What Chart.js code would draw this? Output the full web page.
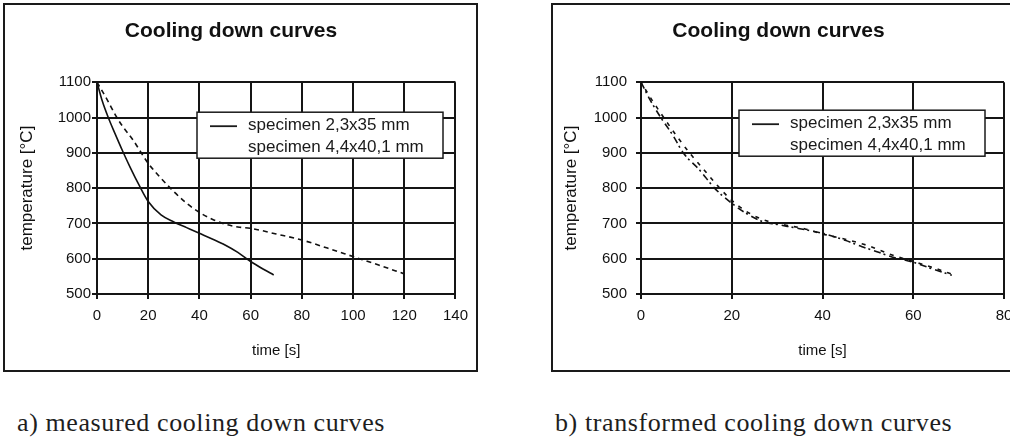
<!DOCTYPE html>
<html>
<head>
<meta charset="utf-8">
<script src="https://cdn.jsdelivr.net/npm/chart.js"></script>
<style>
    html, body { margin: 0; padding: 0; background: #fff; }
    body { width: 1010px; height: 437px; overflow: hidden; position: relative; }
    .box { position: absolute; top: 3px; border: 2px solid #1a1a1a; width: 471px; height: 365px; }
    .box canvas { display: block; }
    .caption { position: absolute; top: 408px; font-family: "Liberation Serif", "Times New Roman", serif;
        font-size: 26px; line-height: 30px; letter-spacing: 0.6px; color: #1e1e1e; white-space: nowrap; }
</style>
</head>
<body>
<div class="box" style="left:3px"><canvas id="measuredChart" width="471" height="365"></canvas></div>
<div class="box" style="left:551px"><canvas id="transformedChart" width="471" height="365"></canvas></div>
<div class="caption" style="left:17px">a) measured cooling down curves</div>
<div class="caption" style="left:555px">b) transformed cooling down curves</div>

<script>
// measured curves (left)
const timeThin = [0, 2, 4.4, 7, 10, 13, 16.6, 20, 25, 30, 35, 40, 45, 50, 55, 60, 65, 69];
const tempThin = [1100, 1048, 1000, 955, 905, 858, 806, 762, 724, 704, 688, 672, 656, 639, 618, 592, 570, 554];
const timeThick = [0, 4, 7.5, 10, 14, 20, 25, 30, 35, 40, 45, 50, 55, 60, 70, 80, 90, 100, 110, 120];
const tempThick = [1100, 1050, 1003, 975, 937, 870, 828, 790, 757, 731, 712, 698, 690, 686, 670, 653, 630, 606, 582, 557];

// transformed curves (right)
const timeThinT = [0, 2, 4.2, 7, 9.3, 13, 16.2, 20, 23, 26.8, 30, 35, 40, 45, 48.7, 52, 55.3, 60, 64, 68.5];
const tempThinT = [1100, 1050, 1003, 950, 900, 850, 800, 757, 730, 705, 697, 685, 672, 652, 634, 620, 605, 590, 572, 553];
const timeThickT = [0, 2.5, 5, 8, 11, 14, 17, 20, 24, 28, 32, 36, 40, 45, 50, 55, 60, 65, 69];
const tempThickT = [1100, 1048, 1000, 945, 895, 850, 805, 765, 728, 706, 695, 685, 670, 655, 637, 612, 592, 572, 554];

const seriesNames = ["specimen 2,3x35 mm", "specimen 4,4x40,1 mm"];
const tempTicks = [500, 1100, 100];   // min, max, step
const chartTitle = "Cooling down curves";
const xTitle = "time [s]";
const yTitle = "temperature [°C]";

const FONT = '"Liberation Sans", Arial, sans-serif';
Chart.defaults.color = '#111';
Chart.defaults.font.family = FONT;

function toPoints(xs, ys) {
    return xs.map((x, i) => ({ x: x, y: ys[i] }));
}

// legend in a framed box like the old spreadsheet charts
const boxLegend = {
    id: 'boxLegend',
    afterDraw(chart, args, opts) {
        const ctx = chart.ctx;
        const a = chart.chartArea;
        const x0 = a.left + opts.dx, y0 = a.top + opts.dy;
        const w = opts.w, h = 46;
        ctx.save();
        ctx.fillStyle = '#fff';
        ctx.fillRect(x0, y0, w, h);
        ctx.strokeStyle = '#1a1a1a';
        ctx.lineWidth = 1.5;
        ctx.strokeRect(x0, y0, w, h);
        // only the first sample is visible in the original
        ctx.beginPath();
        ctx.moveTo(x0 + 13, y0 + 14);
        ctx.lineTo(x0 + 40, y0 + 14);
        ctx.lineWidth = 1.8;
        ctx.stroke();
        ctx.fillStyle = '#1a1a1a';
        ctx.font = '17px ' + FONT;
        ctx.textBaseline = 'middle';
        chart.data.datasets.forEach((ds, i) => {
            ctx.fillText(ds.label, x0 + opts.textX, y0 + 13 + i * 22);
        });
        ctx.restore();
    }
};

function makeChart(id, maxTime, thin, thick, opts) {
    const ctx = document.getElementById(id).getContext('2d');
    return new Chart(ctx, {
        type: 'line',
        data: {
            datasets: [{
                label: seriesNames[0],
                data: thin,
                borderColor: '#111',
                borderWidth: 1.6,
                borderDash: opts.thinDash,
                pointRadius: 0,
                cubicInterpolationMode: 'monotone'
            }, {
                label: seriesNames[1],
                data: thick,
                borderColor: '#111',
                borderWidth: 1.6,
                borderDash: opts.thickDash,
                borderDashOffset: opts.thickOffset,
                pointRadius: 0,
                cubicInterpolationMode: 'monotone'
            }]
        },
        options: {
            responsive: false,
            animation: false,
            layout: { padding: { left: 0, right: opts.padRight, top: 0, bottom: 0 } },
            plugins: {
                legend: { display: false },
                tooltip: { enabled: false },
                title: {
                    display: true,
                    text: chartTitle,
                    font: { size: 21, weight: 'bold', family: FONT },
                    padding: { top: 14, bottom: 38 }
                },
                boxLegend: opts.legend
            },
            scales: {
                x: {
                    type: 'linear',
                    min: 0,
                    max: maxTime,
                    afterFit: s => { s.height = 76; },
                    ticks: { stepSize: 20, padding: 8, font: { size: 15 }, maxRotation: 0, callback: v => String(v) },
                    grid: { color: '#151515', lineWidth: 2, tickLength: 5 },
                    border: { color: '#151515', width: 2 },
                    title: { display: true, text: xTitle, font: { size: 15 }, padding: { top: 0, bottom: 10 } }
                },
                y: {
                    min: tempTicks[0],
                    max: tempTicks[1],
                    afterFit: s => { s.width = opts.yWidth; },
                    ticks: { stepSize: tempTicks[2], padding: opts.yPad, font: { size: 15 }, callback: v => String(v) },
                    grid: { color: '#151515', lineWidth: 2, tickLength: 5 },
                    border: { color: '#151515', width: 2 },
                    title: { display: true, text: yTitle, font: { size: 17 }, padding: { top: opts.yTitlePad, bottom: 0 } }
                }
            }
        },
        plugins: [boxLegend]
    });
}

makeChart('measuredChart', 140, toPoints(timeThin, tempThin), toPoints(timeThick, tempThick), {
    thinDash: [],
    thickDash: [5, 4],
    thickOffset: 0,
    padRight: 19,
    yWidth: 92,
    yPad: 1,
    yTitlePad: 12,
    legend: { dx: 100, dy: 30, w: 246, textX: 51 }
});

makeChart('transformedChart', 80, toPoints(timeThinT, tempThinT), toPoints(timeThickT, tempThickT), {
    thinDash: [7, 3, 2, 4],
    thickDash: [4, 6],
    thickOffset: 2,
    padRight: 20,
    yWidth: 88,
    yPad: 9,
    yTitlePad: 8,
    legend: { dx: 98, dy: 28, w: 246, textX: 51 }
});
</script>
</body>
</html>
